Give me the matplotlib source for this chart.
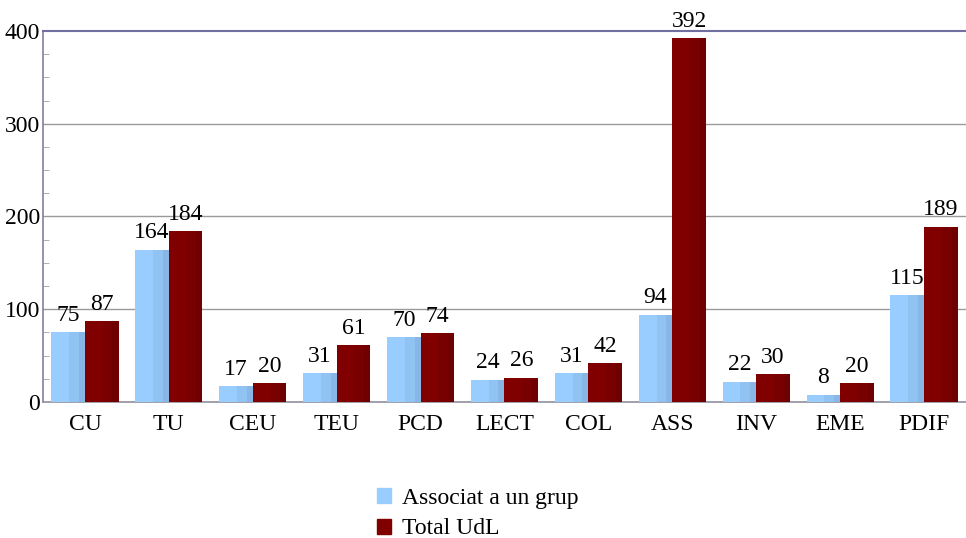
import numpy as np
import matplotlib.pyplot as plt
from matplotlib.patches import Patch

categories = ["CU", "TU", "CEU", "TEU", "PCD", "LECT", "COL", "ASS", "INV", "EME", "PDIF"]
associat = [75, 164, 17, 31, 70, 24, 31, 94, 22, 8, 115]
total_udl = [87, 184, 20, 61, 74, 26, 42, 392, 30, 20, 189]

plt.rcParams["font.family"] = ["Liberation Serif", "DejaVu Serif"]
FS = 17

fig = plt.figure(figsize=(9.66, 5.38), dpi=100)
ax = fig.add_axes([0.0445, 0.2528, 0.9555, 0.6896])

x = np.arange(len(categories))
w = 0.4

# bars with a light vertical shading (three stripes each)
def shaded_bar(xpos, vals, base, mid, dark):
    ax.bar(xpos, vals, width=w, align="edge", color=base, zorder=3, linewidth=0)
    ax.bar(xpos + w * 0.53, vals, width=w * 0.29, align="edge", color=mid, zorder=4, linewidth=0)
    ax.bar(xpos + w * 0.82, vals, width=w * 0.18, align="edge", color=dark, zorder=4, linewidth=0)

shaded_bar(x - w, associat, "#99CCFF", "#90C2F2", "#88B6E6")
shaded_bar(x, total_udl, "#800000", "#780000", "#700000")

for xi, v in zip(x - w / 2, associat):
    ax.text(xi, v + 7, str(v), ha="center", va="bottom", fontsize=FS)
for xi, v in zip(x + w / 2, total_udl):
    ax.text(xi, v + 7, str(v), ha="center", va="bottom", fontsize=FS)

ax.set_xlim(-0.5, len(categories) - 0.5)
ax.set_ylim(0, 400)
ax.set_xticks(x)
ax.set_xticklabels(categories, fontsize=FS)
ax.set_yticks([0, 100, 200, 300, 400])
ax.set_yticks(np.arange(25, 400, 25), minor=True)
ax.tick_params(axis="y", which="major", length=0, labelsize=FS, pad=2)
ax.tick_params(axis="y", which="minor", direction="in", length=4, color="#A0A0A0")
ax.tick_params(axis="x", length=0, pad=9)

for yv in [100, 200, 300]:
    ax.axhline(yv, color="#9A9A9A", linewidth=1.0, zorder=1)
ax.axhline(400, color="#7070A0", linewidth=1.5, zorder=5, clip_on=False)

for s in ["top", "right"]:
    ax.spines[s].set_visible(False)
ax.spines["left"].set_color("#8080A0")
ax.spines["left"].set_linewidth(1.2)
ax.spines["bottom"].set_color("#9090A0")
ax.spines["bottom"].set_linewidth(1.2)

handles = [Patch(color="#99CCFF", label="Associat a un grup"),
           Patch(color="#800000", label="Total UdL")]
fig.legend(handles=handles, loc="upper left", bbox_to_anchor=(0.39, 0.093), frameon=False,
           fontsize=FS, handlelength=0.6, handleheight=0.6, handletextpad=0.45,
           labelspacing=0.4, borderpad=0, borderaxespad=0)

fig.savefig("out.png", dpi=100)
